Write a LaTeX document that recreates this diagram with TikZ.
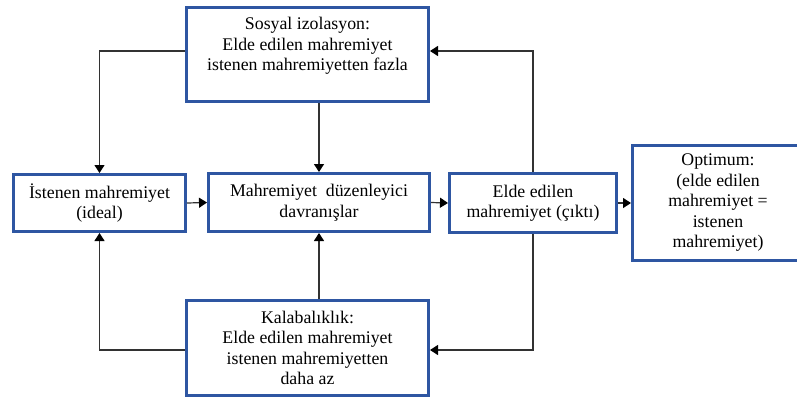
\documentclass[tikz,border=0pt]{standalone}
\usepackage{fontspec}
\setmainfont{Liberation Serif}
\usetikzlibrary{arrows.meta}
\definecolor{boxblue}{RGB}{46,86,162}
\definecolor{wire}{RGB}{50,50,50}
\tikzset{
  box/.style={draw=boxblue, line width=2.6pt, fill=white, inner sep=0pt,
    align=center, font=\fontsize{17.8}{20.5}\selectfont},
  link/.style={draw=wire, line width=1.2pt,
    -{Triangle[length=8pt,width=10pt,color=black]}},
}
\begin{document}
\begin{tikzpicture}[x=1pt,y=-1pt]
  \useasboundingbox (0,0) rectangle (797,399);
  \fill[white] (0,0) rectangle (797,399);
  \clip (0,0) rectangle (797,399);

  % boxes
  \node[box, minimum width=242.4pt, minimum height=94.4pt] (iso) at (307.5,54.5)
    {Sosyal izolasyon:\\Elde edilen mahremiyet\\istenen mahremiyetten fazla\\\mbox{}};
  \node[box, minimum width=172.4pt, minimum height=57.4pt] (ideal) at (99.5,203)
    {İstenen mahremiyet\\(ideal)};
  \node[box, minimum width=221.4pt, minimum height=58.4pt] (beh) at (319,202.5)
    {Mahremiyet\ \ düzenleyici\\davranışlar};
  \node[box, minimum width=167.4pt, minimum height=59.4pt] (out) at (533,203)
    {Elde edilen\\mahremiyet (çıktı)};
  \node[box, minimum width=171.4pt, minimum height=115.4pt] (opt) at (718,203)
    {Optimum:\\(elde edilen\\mahremiyet =\\istenen\\mahremiyet)};
  \node[box, minimum width=242.4pt, minimum height=95.4pt] (crowd) at (307.5,348)
    {Kalabalıklık:\\Elde edilen mahremiyet\\istenen mahremiyetten\\daha az};

  % main flow
  \draw[link] (ideal.east) -- (beh.west);
  \draw[link] (beh.east) -- (out.west);
  \draw[link] (out.east) -- (opt.west);

  % feedback from the two conditions
  \draw[link] ([yshift=3.5pt]iso.west) -| (ideal.north);
  \draw[link] (beh.north |- iso.south) -- (beh.north);
  \draw[link] ([yshift=-2pt]crowd.west) -| (ideal.south);
  \draw[link] (beh.south |- crowd.north) -- (beh.south);

  % output feeds back to both conditions
  \draw[link] (out.north) |- ([yshift=3.5pt]iso.east);
  \draw[link] (out.south) |- ([yshift=-2pt]crowd.east);
\end{tikzpicture}
\end{document}
